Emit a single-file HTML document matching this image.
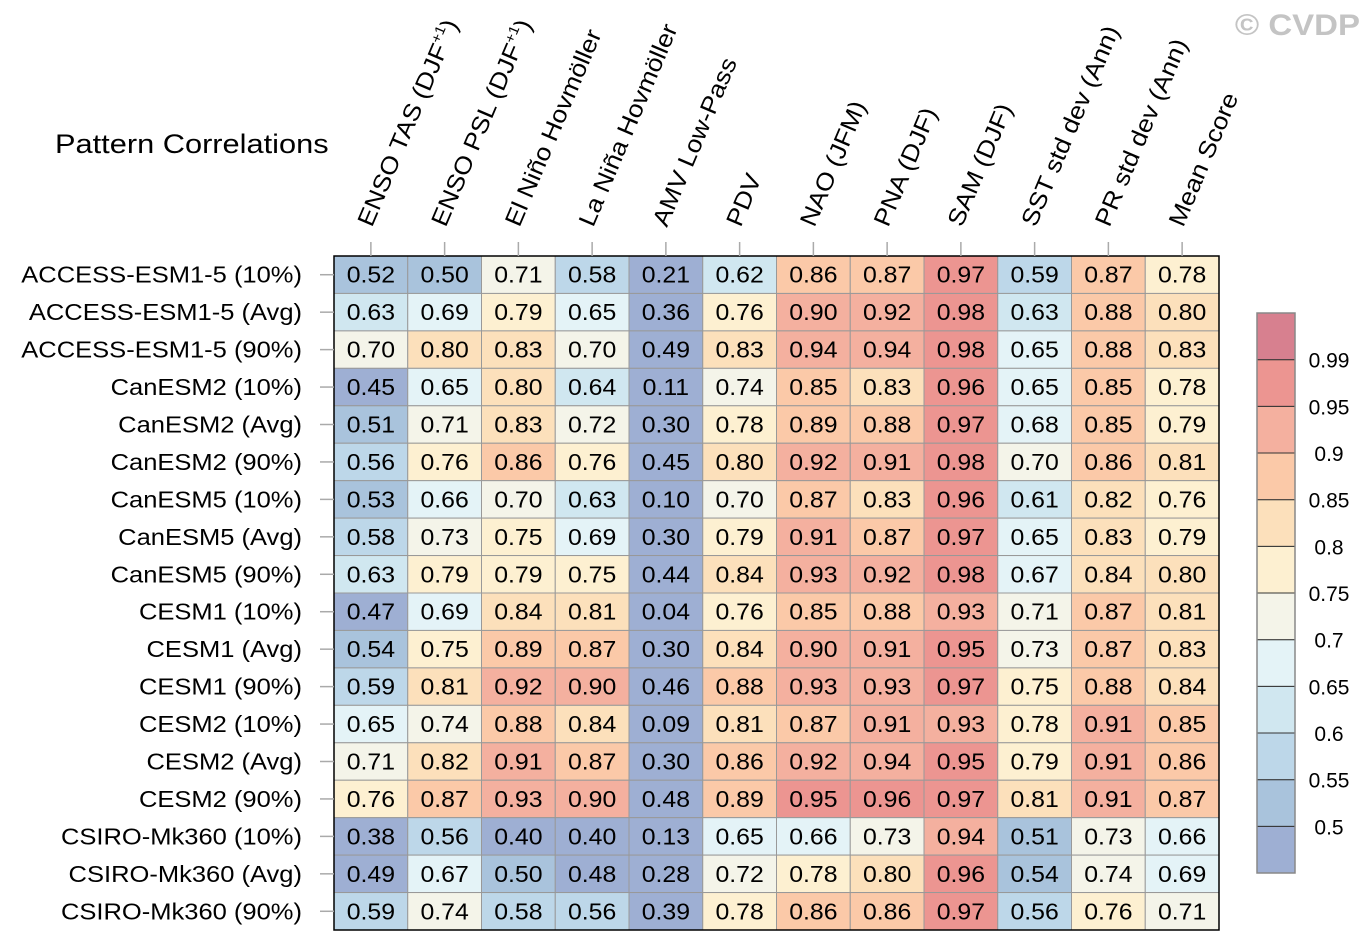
<!DOCTYPE html>
<html><head><meta charset="utf-8"><style>body{margin:0;background:#fff}svg{display:block;font-family:"Liberation Sans",sans-serif}</style></head>
<body>
<svg id="chart" width="1370" height="951" viewBox="0 0 1370 951">
<text transform="translate(1360,35) scale(1.1,1)" text-anchor="end" font-size="30" font-weight="bold" fill="#c4c4c4">© CVDP</text>
<text transform="translate(55,153) scale(1.14,1)" font-size="27" fill="#000">Pattern Correlations</text>
<g id="cells"></g><g id="collabels"></g><g id="rowlabels"></g><g id="cbar"></g>
</svg>
<script>
const columns=["ENSO TAS (DJF+1)","ENSO PSL (DJF+1)","El Niño Hovmöller","La Niña Hovmöller","AMV Low-Pass","PDV","NAO (JFM)","PNA (DJF)","SAM (DJF)","SST std dev (Ann)","PR std dev (Ann)","Mean Score"];
const rows=["ACCESS-ESM1-5 (10%)","ACCESS-ESM1-5 (Avg)","ACCESS-ESM1-5 (90%)","CanESM2 (10%)","CanESM2 (Avg)","CanESM2 (90%)","CanESM5 (10%)","CanESM5 (Avg)","CanESM5 (90%)","CESM1 (10%)","CESM1 (Avg)","CESM1 (90%)","CESM2 (10%)","CESM2 (Avg)","CESM2 (90%)","CSIRO-Mk360 (10%)","CSIRO-Mk360 (Avg)","CSIRO-Mk360 (90%)"];
const values=[
[0.52,0.50,0.71,0.58,0.21,0.62,0.86,0.87,0.97,0.59,0.87,0.78],
[0.63,0.69,0.79,0.65,0.36,0.76,0.90,0.92,0.98,0.63,0.88,0.80],
[0.70,0.80,0.83,0.70,0.49,0.83,0.94,0.94,0.98,0.65,0.88,0.83],
[0.45,0.65,0.80,0.64,0.11,0.74,0.85,0.83,0.96,0.65,0.85,0.78],
[0.51,0.71,0.83,0.72,0.30,0.78,0.89,0.88,0.97,0.68,0.85,0.79],
[0.56,0.76,0.86,0.76,0.45,0.80,0.92,0.91,0.98,0.70,0.86,0.81],
[0.53,0.66,0.70,0.63,0.10,0.70,0.87,0.83,0.96,0.61,0.82,0.76],
[0.58,0.73,0.75,0.69,0.30,0.79,0.91,0.87,0.97,0.65,0.83,0.79],
[0.63,0.79,0.79,0.75,0.44,0.84,0.93,0.92,0.98,0.67,0.84,0.80],
[0.47,0.69,0.84,0.81,0.04,0.76,0.85,0.88,0.93,0.71,0.87,0.81],
[0.54,0.75,0.89,0.87,0.30,0.84,0.90,0.91,0.95,0.73,0.87,0.83],
[0.59,0.81,0.92,0.90,0.46,0.88,0.93,0.93,0.97,0.75,0.88,0.84],
[0.65,0.74,0.88,0.84,0.09,0.81,0.87,0.91,0.93,0.78,0.91,0.85],
[0.71,0.82,0.91,0.87,0.30,0.86,0.92,0.94,0.95,0.79,0.91,0.86],
[0.76,0.87,0.93,0.90,0.48,0.89,0.95,0.96,0.97,0.81,0.91,0.87],
[0.38,0.56,0.40,0.40,0.13,0.65,0.66,0.73,0.94,0.51,0.73,0.66],
[0.49,0.67,0.50,0.48,0.28,0.72,0.78,0.80,0.96,0.54,0.74,0.69],
[0.59,0.74,0.58,0.56,0.39,0.78,0.86,0.86,0.97,0.56,0.76,0.71]];
const levels=[0.5,0.55,0.6,0.65,0.7,0.75,0.8,0.85,0.9,0.95,0.99];
const levelLabels=["0.5","0.55","0.6","0.65","0.7","0.75","0.8","0.85","0.9","0.95","0.99"];
const palette=["#9eafd3","#a9c3dc","#bdd7e9","#d0e7f0","#e4f3f7","#f4f4e9","#fdf0d1","#fce0bb","#fbc9a8","#f4b09f","#ec9591","#d7808f"];
const NS="http://www.w3.org/2000/svg";
const X0=334,Y0=256,CW=(1219-334)/columns.length,RH=(930-256)/rows.length;
const xPos=i=>X0+i*CW, yPos=j=>Y0+j*RH;
function colorFor(v){let k=0;while(k<levels.length&&v>=levels[k]-1e-9)k++;return palette[k];}
function mk(tag,attrs,parent){const e=document.createElementNS(NS,tag);for(const k in attrs)e.setAttribute(k,attrs[k]);parent.appendChild(e);return e;}
const cells=document.getElementById('cells');
values.forEach((r,j)=>r.forEach((v,i)=>{
 const rc=mk('rect',{x:xPos(i),y:yPos(j),width:CW,height:RH,fill:colorFor(v),stroke:'#999','stroke-width':1},cells);
 
 
 const t=mk('text',{x:0,y:0,'text-anchor':'middle','font-size':23,transform:`translate(${xPos(i)+CW/2},${yPos(j)+RH/2+8}) scale(1.08,1)`},cells);
 t.textContent=v.toFixed(2);
 
 
}));
const fr=mk('rect',{x:X0,y:Y0,width:CW*columns.length,height:RH*rows.length,fill:'none',stroke:'#000','stroke-width':1.5},cells);


const cl=document.getElementById('collabels');
columns.forEach((c,i)=>{
 const cx=xPos(i)+CW/2;
 const tk=mk('line',{x1:cx,y1:242,x2:cx,y2:Y0,stroke:'#aaa','stroke-width':1.5},cl);
 
 
 const t=mk('text',{x:0,y:0,'font-size':24,transform:`translate(${cx+1},228) rotate(-67) scale(1.1,1)`},cl);
 
 
 if(c.endsWith('(DJF+1)')){
  t.appendChild(document.createTextNode(c.replace('(DJF+1)','(DJF')));
  const s=mk('tspan',{'font-size':14,dy:-10},t);s.textContent='+1';
  const s2=mk('tspan',{dy:10},t);s2.textContent=')';
 } else t.textContent=c;
});
const rl=document.getElementById('rowlabels');
rows.forEach((r,j)=>{
 const cy=yPos(j)+RH/2;
 const tk=mk('line',{x1:320,y1:cy,x2:X0,y2:cy,stroke:'#aaa','stroke-width':1.5},rl);
 
 
 const t=mk('text',{x:0,y:0,'text-anchor':'end','font-size':23,transform:`translate(302,${cy+8}) scale(1.11,1)`},rl);
 t.textContent=r;
 
 
});
const cb=document.getElementById('cbar');
const CB0=313,CB1=873,BH=(CB1-CB0)/palette.length;
palette.forEach((p,k)=>{
 const y=CB1-(k+1)*BH;
 const r=mk('rect',{x:1257,y:y,width:38,height:BH,fill:p,stroke:'#333','stroke-width':1},cb);
 
 
});
const cbf=mk('rect',{x:1257,y:CB0,width:38,height:CB1-CB0,fill:'none',stroke:'#888','stroke-width':1.5},cb);


levelLabels.forEach((l,k)=>{
 const y=CB1-(k+1)*BH;
 const t=mk('text',{x:1329,y:y+8,'text-anchor':'middle','font-size':21},cb);
 t.textContent=l;
 
 
});
</script>
</body></html>
